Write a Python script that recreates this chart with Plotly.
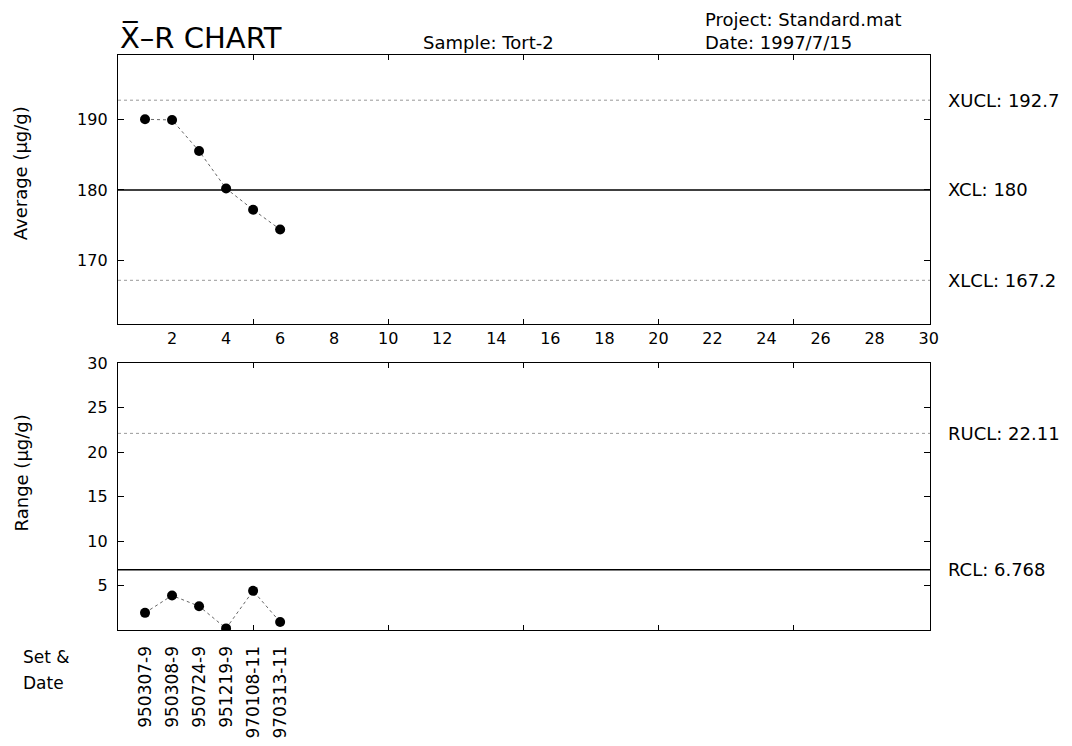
import plotly.graph_objects as go

# ---- data ----
sample_no = [1, 2, 3, 4, 5, 6]
set_dates = ["950307-9", "950308-9", "950724-9", "951219-9", "970108-11", "970313-11"]
averages = [190.0, 189.9, 185.5, 180.2, 177.2, 174.4]
ranges_ = [1.93, 3.88, 2.68, 0.18, 4.4, 0.89]
XUCL, XCL, XLCL = 192.7, 180.0, 167.2
RUCL, RCL = 22.11, 6.768
x_tick_vals = list(range(2, 31, 2))
minor_tick_vals = [5, 10, 15, 20, 25]
avg_ticks = [170, 180, 190]
rng_ticks = [5, 10, 15, 20, 25, 30]

FONT = "DejaVu Sans"
fig = go.Figure()

# average chart
fig.add_trace(go.Scatter(x=sample_no, y=averages, mode="lines+markers",
                         line=dict(color="#666", width=1, dash="dot"),
                         marker=dict(color="black", size=10),
                         xaxis="x", yaxis="y", showlegend=False))
# range chart
fig.add_trace(go.Scatter(x=sample_no, y=ranges_, mode="lines+markers",
                         line=dict(color="#666", width=1, dash="dot"),
                         marker=dict(color="black", size=10),
                         xaxis="x2", yaxis="y2", showlegend=False))

shapes = []
for val, yref, solid in [(XUCL, "y", False), (XCL, "y", True), (XLCL, "y", False),
                         (RUCL, "y2", False), (RCL, "y2", True)]:
    shapes.append(dict(type="line", xref=("x domain" if yref == "y" else "x2 domain"),
                       yref=yref, x0=0, x1=1, y0=val, y1=val,
                       line=dict(color="black" if solid else "#999",
                                 width=1.5 if solid else 1,
                                 dash="solid" if solid else "dot"),
                       layer="below"))

tickfont = dict(family=FONT, size=16, color="black")
common_axis = dict(showline=True, linecolor="black", linewidth=1.3, mirror="ticks",
                   showgrid=False, zeroline=False)

fig.update_layout(
    width=1072, height=746,
    margin=dict(l=110, r=150, t=47, b=124),
    paper_bgcolor="white", plot_bgcolor="white",
    font=dict(family=FONT, color="black"),
    shapes=shapes,
    xaxis=dict(domain=[0, 1], range=[0, 30.05], anchor="y", tickvals=x_tick_vals,
               ticks="", tickfont=tickfont, **common_axis),
    yaxis=dict(domain=[0.532, 1], range=[161.0, 199.1], tickvals=avg_ticks,
               ticks="inside", ticklen=6, tickcolor="black", tickfont=tickfont,
               ticklabelstandoff=6, **common_axis),
    xaxis2=dict(domain=[0, 1], range=[0, 30.05], anchor="y2", tickvals=sample_no,
                ticktext=set_dates, tickangle=-90, ticks="", ticklabelstandoff=8,
                tickfont=dict(family=FONT, size=17, color="black"), **common_axis),
    yaxis2=dict(domain=[0, 0.464], range=[0, 30], tickvals=rng_ticks,
                ticks="inside", ticklen=6, tickcolor="black", tickfont=tickfont,
                ticklabelstandoff=6, **common_axis),
    # overlay axes carrying the 5-step inside ticks on top/bottom edges
    xaxis3=dict(overlaying="x", anchor="y", range=[0, 30.05], tickvals=minor_tick_vals,
                ticks="inside", ticklen=5, tickcolor="black", showticklabels=False,
                showline=False, mirror="ticks", showgrid=False, zeroline=False),
    xaxis4=dict(overlaying="x2", anchor="y2", range=[0, 30.05], tickvals=minor_tick_vals,
                ticks="inside", ticklen=5, tickcolor="black", showticklabels=False,
                showline=False, mirror="ticks", showgrid=False, zeroline=False),
)
# dummy traces to activate overlay axes
fig.add_trace(go.Scatter(x=[None], y=[None], xaxis="x3", yaxis="y", showlegend=False, hoverinfo="skip"))
fig.add_trace(go.Scatter(x=[None], y=[None], xaxis="x4", yaxis="y2", showlegend=False, hoverinfo="skip"))

ann = []
for val, label, yref in [(XUCL, "XUCL: 192.7", "y"), (XCL, "XCL: 180", "y"),
                         (XLCL, "XLCL: 167.2", "y"), (RUCL, "RUCL: 22.11", "y2"),
                         (RCL, "RCL: 6.768", "y2")]:
    ann.append(dict(xref="paper", yref=yref, x=1.02, y=val, text=label, showarrow=False,
                    xanchor="left", yanchor="middle", font=dict(family=FONT, size=18)))
ann += [
    dict(xref="paper", yref="paper", x=-0.119, y=0.795, textangle=-90,
         xanchor="center", yanchor="middle",
         text="Average (μg/g)", showarrow=False, font=dict(family=FONT, size=18)),
    dict(xref="paper", yref="paper", x=-0.119, y=0.273, textangle=-90,
         xanchor="center", yanchor="middle",
         text="Range (μg/g)", showarrow=False, font=dict(family=FONT, size=18)),
    dict(xref="paper", yref="paper", x=0, y=1.0, xanchor="left", yanchor="bottom", yshift=-2,
         text="X\u0305\u2013R CHART", showarrow=False, font=dict(family=FONT, size=29)),
    dict(xref="paper", yref="paper", x=0.373, y=1.0, xanchor="left", yanchor="bottom", yshift=0,
         text="Sample: Tort-2", showarrow=False, font=dict(family=FONT, size=18)),
    dict(xref="paper", yref="paper", x=0.72, y=1.0, xanchor="left", yanchor="bottom", yshift=0,
         text="Date: 1997/7/15", showarrow=False, font=dict(family=FONT, size=18)),
    dict(xref="paper", yref="paper", x=0.72, y=1.0, xanchor="left", yanchor="bottom", yshift=23,
         text="Project: Standard.mat", showarrow=False, font=dict(family=FONT, size=18)),
    dict(xref="paper", yref="paper", x=-0.119, y=0, xanchor="left", yanchor="top", yshift=-15,
         text="Set &", showarrow=False, font=dict(family=FONT, size=17)),
    dict(xref="paper", yref="paper", x=-0.119, y=0, xanchor="left", yanchor="top", yshift=-41,
         text="Date", showarrow=False, font=dict(family=FONT, size=17)),
]
fig.update_layout(annotations=ann)

fig.write_html("out.html")
